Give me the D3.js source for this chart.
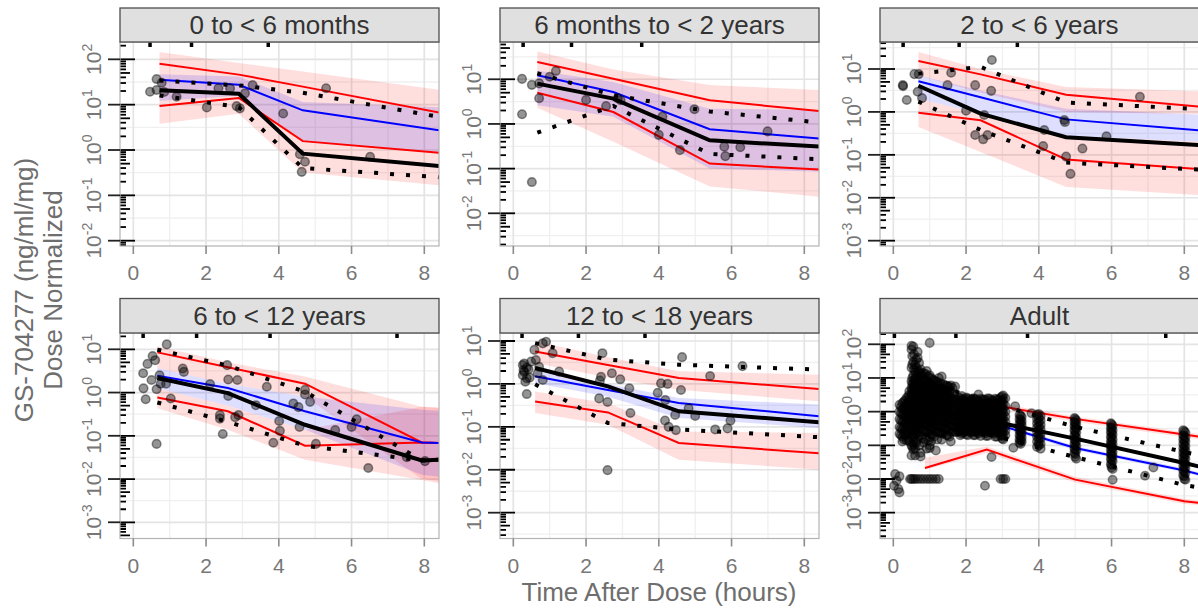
<!DOCTYPE html>
<html><head><meta charset="utf-8">
<script src="https://cdn.jsdelivr.net/npm/d3@7"></script>
<style>body{margin:0;background:#fff;} text{font-family:"Liberation Sans",Arial,sans-serif;}</style>
</head><body><svg id="c" width="1198" height="609"></svg>
<script>
// ---------------- DATA ----------------
const panelTitles = ["0 to < 6 months","6 months to < 2 years","2 to < 6 years","6 to < 12 years","12 to < 18 years","Adult"];
const xTicks = [0,2,4,6,8];
const binTimes = [
 [0.72,2.9,4.66,8.45],
 [0.66,2.75,5.4,8.45],
 [0.69,2.4,4.75,8.45],
 [0.66,2.6,4.72,7.93,8.45],
 [0.6,2.6,4.55,8.45],
 [0.87,2.57,5.0,8.0,8.45]
];
const predMedian = [
 [35.5,27.5,7.5,2.7],
 [12.3,5.2,0.76,0.47],
 [5.2,2.19,0.67,0.37],
 [2.45,1.27,0.37,0.070,0.068],
 [1.5,0.72,0.36,0.175],
 [1.02,0.52,0.083,0.018,0.0135]
];
const predMedianLo = [
 [12,15.8,1.58,0.89],
 [2.63,1.45,0.1,0.085],
 [2.04,0.91,0.28,0.2],
 [1.26,0.5,0.138,0.0126,0.0112],
 [1.05,0.5,0.16,0.094],
 [0.89,0.45,0.072,0.0158,0.0117]
];
const predMedianHi = [
 [46.8,41.7,11.5,8.7],
 [15.8,8.7,2.2,2.04],
 [7.1,3.16,1.19,0.87],
 [3.7,1.58,0.81,0.4,0.38],
 [1.96,1.0,0.47,0.33],
 [1.17,0.6,0.095,0.021,0.0155]
];
const predP95 = [
 [80,46,25,6.6],
 [24.4,10.3,3.4,1.92],
 [15.3,7.5,2.5,1.32],
 [8.5,3.83,1.6,0.070,0.068],
 [5.7,2.76,1.37,0.76],
 [4.0,1.69,0.61,0.209,0.178]
];
const predP95Lo = [
 [20,20,4,1.6],
 [7.9,3.16,0.5,0.355],
 [7.1,2.8,1.0,0.89],
 [3.7,1.58,0.81,0.01,0.0089],
 [3.07,1.41,0.73,0.39],
 [3.3,1.41,0.5,0.174,0.148]
];
const predP95Hi = [
 [145,83,54,21],
 [41.7,16.6,7.4,5.75],
 [25,10,3.8,3.0],
 [11.7,5.0,2.34,0.47,0.44],
 [9.8,4.2,1.96,1.64],
 [4.8,2.04,0.72,0.25,0.214]
];
const predP05 = [
 [9.3,14,1.57,0.86],
 [5.0,1.85,0.13,0.095],
 [0.96,0.64,0.078,0.046],
 [0.77,0.37,0.059,0.070,0.068],
 [0.39,0.217,0.042,0.024],
 [0.0213,0.0746,0.0096,0.0022,0.00195]
];
const predP05Lo = [
 [3.8,6.3,0.32,0.166],
 [2.3,0.4,0.04,0.0234],
 [0.445,0.117,0.0178,0.0115],
 [0.436,0.138,0.0279,0.0095,0.0079],
 [0.21,0.112,0.0171,0.01],
 [0.019,0.059,0.0079,0.0018,0.00166]
];
const predP05Hi = [
 [20,20,4,1.6],
 [7.9,3.16,0.5,0.355],
 [2.04,0.91,0.28,0.2],
 [1.26,0.5,0.138,0.47,0.44],
 [0.67,0.355,0.078,0.072],
 [0.0427,0.093,0.0117,0.0026,0.0023]
];
const obsMedian = [
 [20.7,17.4,0.83,0.44],
 [8.0,3.7,0.43,0.31],
 [4.07,0.91,0.257,0.168],
 [2.17,0.97,0.18,0.027,0.028],
 [2.35,0.88,0.23,0.127],
 [1.12,0.56,0.158,0.030,0.023]
];
const obsP95 = [
 [34,26.7,18.3,5.3],
 [13.6,4.4,1.9,1.07],
 [7.8,11.2,1.66,1.16],
 [9.8,4.2,1.05,0.027,0.028],
 [8.9,3.67,2.8,2.15],
 [7.9,2.0,0.355,0.063,0.05]
];
const obsP05 = [
 [16,8.85,0.40,0.25],
 [0.64,2.53,0.213,0.162],
 [1.74,0.38,0.066,0.045],
 [0.59,0.21,0.059,0.027,0.028],
 [0.98,0.123,0.087,0.057],
 [0.2,0.224,0.0447,0.0066,0.0055]
];
const rugTimes = [[0.46,1.6,3.71],[0.27,1.6,3.53],[0.27,1.81,3.41],[0.27,1.74,3.76,7.25],[0.24,1.79,3.62],[0.03,1.72,3.69,7.49]];
const obsPoints = [
 [[0.46,19.3],[0.64,36.7],[0.78,30.5],[0.64,21],[0.85,19],[1.19,15],[2.02,8.7],[2.34,23],[2.66,23],[2.84,9.3],[2.93,8.3],[3.07,17.8],[3.28,27],[4.12,6.4],[4.58,0.81],[4.72,0.55],[4.63,0.33],[5.30,23],[6.51,0.71]],
 [[0.24,10.2],[0.24,1.65],[0.51,7.5],[0.51,0.05],[0.71,3.76],[0.71,8.1],[1.0,11.4],[1.17,15.3],[2.0,3.45],[2.55,2.5],[2.87,3.76],[2.95,3.4],[4.0,0.57],[4.1,1.46],[4.58,0.26],[4.98,2.13],[5.8,0.31],[5.83,0.19],[6.24,0.30],[6.99,0.68]],
 [[0.26,4.2],[0.27,4.0],[0.37,1.9],[0.58,7.6],[0.67,2.95],[0.70,7.6],[0.79,2.1],[1.59,8.2],[1.49,4.2],[2.0,1.07],[2.25,4.2],[2.25,0.29],[2.47,0.23],[2.5,0.85],[2.59,0.29],[2.69,3.1],[2.71,16.2],[4.12,0.16],[4.15,0.38],[4.70,0.65],[4.72,0.58],[4.75,0.091],[4.87,0.036],[5.2,0.14],[5.86,0.27],[6.78,2.26]],
 [[0.27,2.8],[0.28,1.25],[0.34,0.70],[0.39,4.6],[0.5,1.95],[0.53,7.0],[0.6,5.6],[0.64,0.065],[0.64,1.19],[0.72,2.5],[0.75,1.6],[0.9,1.6],[0.92,13],[1.03,0.73],[1.36,3.6],[1.39,3.0],[2.11,1.57],[2.38,0.30],[2.38,0.25],[2.46,0.11],[2.58,4.3],[2.61,2.0],[2.61,0.83],[2.86,1.95],[2.8,0.27],[2.89,0.30],[3.37,0.51],[3.67,1.36],[3.85,0.069],[4.01,0.22],[4.03,0.13],[4.4,0.56],[4.54,0.46],[4.57,0.16],[4.72,1.15],[4.72,0.9],[4.86,0.61],[5.02,0.065],[5.55,0.135],[6.0,0.16],[6.14,0.24],[6.46,0.018],[7.52,0.032],[8.02,0.026]],
 [[0.26,2.75],[0.28,2.1],[0.26,1.6],[0.37,2.4],[0.37,1.35],[0.33,1.13],[0.37,0.58],[0.49,3.3],[0.3,1.9],[0.3,3.0],[0.45,1.4],[0.42,2.2],[0.58,6.2],[0.62,3.6],[0.71,2.5],[0.67,1.77],[0.81,8.8],[0.9,9.6],[0.81,1.23],[1.08,5.2],[1.26,1.93],[2.45,5.2],[2.41,1.47],[2.38,1.19],[2.36,0.46],[2.59,0.38],[2.59,0.0098],[2.71,1.77],[2.94,1.28],[3.19,0.79],[3.22,0.21],[3.97,0.62],[4.06,1.03],[4.24,1.0],[4.18,0.42],[4.17,0.14],[4.27,0.10],[4.47,0.084],[4.45,0.19],[4.61,0.72],[4.64,4.2],[4.82,0.27],[5.0,0.18],[5.41,1.53],[5.55,0.087],[5.89,0.092],[5.97,0.14],[6.3,2.6]],
 []
];
// Adult observations grouped by sampling time
const adultTimes = [0.02,0.05,0.09,0.14,0.17,0.25,0.33,0.42,0.46,0.5,0.55,0.6,0.67,0.75,0.83,0.92,1.0,1.08,1.17,1.25,1.33,1.42,1.5,1.58,1.7,1.8,1.88,1.96,2.05,2.15,2.25,2.34,2.45,2.52,2.55,2.65,2.7,2.75,2.85,2.95,3.02,3.08,3.3,3.35,3.47,3.53,3.8,3.95,4.05,4.98,5.03,5.98,6.03,6.92,7.15,7.97,8.03,
 0.21,0.29,0.37,0.44,0.52,0.57,0.63,0.71,0.79,0.88,0.96,1.04,1.12,1.21,1.29,1.37,1.46,1.54,1.63,
 1.75,1.84,1.92,2.0,2.1,2.2,2.3,2.4,2.5,2.6,2.7,2.8,2.9,2.99,
 3.5,4.0,5.0,6.0,8.0];
const adultConc = [
 [0.0063],[0.014],[0.009],[0.005],
 [1.6,1.0,0.6,0.35,0.22,0.012,0.004],
 [1.8,1.2,0.8,0.5,0.3,0.18,0.13],
 [2.2,1.5,1.0,0.7,0.45,0.3,0.2],
 [3.0,2.0,1.3,0.9,0.6,0.4,0.25,0.15],
 [0.01],
 [90,70,20,8,5,3.5,2.4,1.6,1.1,0.75,0.5,0.33,0.2,0.1,0.05,0.01],
 [85,30,12,7,5,3.5,2.5,1.8,1.2,0.8,0.55,0.35,0.22,0.12,0.074,0.01],
 [25,15,9,6,4,2.8,2,1.4,1.0,0.7,0.45,0.28,0.08,0.05,0.01],
 [60,40,15,10,6.5,4.5,3.2,2.2,1.5,1.0,0.65,0.4,0.25,0.15,0.01],
 [18,14,11,7,5,3.5,2.5,1.7,1.2,0.8,0.55,0.35,0.2,0.06,0.047,0.01],
 [14,9,6,4,2.8,2.0,1.4,1.0,0.7,0.45,0.3,0.12,0.01],
 [16,8,5.5,3.8,2.6,1.8,1.25,0.85,0.6,0.4,0.25,0.08,0.01],
 [110,12,7,4.5,3.2,2.2,1.5,1.05,0.7,0.48,0.3,0.18,0.1,0.083,0.01],
 [9,6,4,2.8,2,1.4,1.0,0.7,0.48,0.32,0.2,0.01],
 [8,5,3.5,2.5,1.7,1.2,0.85,0.6,0.4,0.25,0.07,0.01],
 [10,6,4,2.8,1.9,1.3,0.9,0.6,0.4,0.25,0.01],
 [11,5,3.5,2.5,1.7,1.2,0.8,0.55,0.35,0.22,0.148],
 [6,4,2.8,2,1.4,1.0,0.7,0.48,0.3],
 [5.6,3.5,2.5,1.7,1.15,0.8,0.55,0.35,0.2],
 [6,4,2.7,1.8,1.25,0.85,0.6,0.4,0.25,0.13],
 [5.6,2.4,1.6,1.1,0.75,0.5,0.35,0.25],
 [2.6,1.9,1.4,1.0,0.75,0.55,0.4,0.28,0.26],
 [2.9,2.2,1.6,1.15,0.85,0.6,0.45,0.32,0.22],
 [2.4,1.8,1.3,0.95,0.7,0.5,0.36,0.25],
 [2.5,1.9,1.4,1.0,0.72,0.52,0.38,0.27,0.2],
 [2.2,1.6,1.2,0.88,0.64,0.46,0.33,0.24],
 [2.4,1.8,1.3,0.95,0.7,0.5,0.36,0.26,0.2],
 [3.2,2.1,1.5,1.1,0.8,0.58,0.42,0.3,0.22],
 [2.3,1.7,1.25,0.9,0.65,0.47,0.34,0.25],
 [0.0063],
 [2.2,1.6,1.2,0.86,0.62,0.45,0.32,0.23,0.19],
 [2.4,1.75,1.3,0.92,0.66,0.48,0.35,0.25],
 [0.045],
 [2.1,1.5,1.1,0.8,0.58,0.42,0.3,0.22],
 [2.3,1.7,1.2,0.88,0.64,0.46,0.33,0.24,0.18],
 [2.6,1.9,1.4,1.0,0.72,0.52,0.37,0.26,0.19,0.01],
 [3.0,2.3,1.7,1.2,0.9,0.65,0.48,0.35,0.26,0.19,0.15,0.01],
 [2.5,1.5,1.0,0.7,0.5,0.36,0.27,0.2,0.01],
 [0.085],[1.45],
 [0.8,0.6,0.45,0.35,0.27,0.2,0.15,0.12],
 [0.7,0.52,0.4,0.3,0.23,0.17,0.13],
 [0.9],
 [0.8,0.6,0.45,0.33,0.25,0.18,0.13,0.09],
 [0.75,0.55,0.4,0.3,0.22,0.16,0.11,0.08],
 [0.65,0.5,0.38,0.28,0.2,0.15,0.11,0.08,0.06],
 [0.55,0.42,0.32,0.24,0.17,0.13,0.095,0.07,0.04],
 [0.45,0.33,0.25,0.18,0.13,0.1,0.075,0.055,0.04,0.028],
 [0.38,0.28,0.21,0.15,0.11,0.085,0.063,0.047,0.034,0.02,0.0095],
 [0.0125],[0.022],
 [0.28,0.2,0.15,0.11,0.08,0.06,0.045,0.033,0.025,0.018,0.013],
 [0.24,0.17,0.13,0.095,0.07,0.052,0.039,0.028,0.021,0.015,0.0095],
 [1.4,0.9,0.55,0.32,0.2],
 [2.0,1.3,0.85,0.55,0.35,0.22,0.15],
 [2.6,1.7,1.15,0.8,0.52,0.34,0.22,0.14],
 [4,2.6,1.7,1.15,0.78,0.52,0.34,0.22,0.13],
 [45,25,10,6.5,4.4,3.0,2.1,1.4,0.95,0.65,0.42,0.27,0.17,0.09],
 [50,18,9,6,4.2,3.0,2.1,1.5,1.0,0.7,0.47,0.3,0.18,0.1],
 [35,20,11,7.5,5,3.4,2.4,1.7,1.2,0.82,0.55,0.36,0.22,0.12],
 [28,16,10,6.5,4.4,3.0,2.1,1.45,1.0,0.68,0.45,0.3,0.18,0.1],
 [12,8,5.5,3.8,2.6,1.8,1.25,0.87,0.6,0.4,0.26,0.16],
 [13,8.5,5.8,4,2.7,1.9,1.3,0.9,0.62,0.42,0.27,0.15],
 [11,7.5,5,3.5,2.4,1.65,1.15,0.8,0.55,0.37,0.24,0.14],
 [10,6.5,4.5,3.1,2.15,1.5,1.05,0.72,0.5,0.34,0.22,0.13],
 [8.5,5.8,4,2.7,1.9,1.3,0.9,0.62,0.43,0.29,0.18],
 [7.5,5,3.5,2.4,1.7,1.15,0.8,0.55,0.38,0.25,0.15],
 [7,4.8,3.3,2.3,1.6,1.1,0.76,0.52,0.36,0.24],
 [6.5,4.5,3.1,2.15,1.5,1.03,0.72,0.5,0.34,0.22],
 [6,4.2,2.9,2.0,1.4,0.97,0.67,0.46,0.31,0.2],
 [5.5,3.8,2.6,1.8,1.25,0.87,0.6,0.41,0.28,0.18],
 [5,3.4,2.3,1.6,1.1,0.77,0.53,0.36,0.25],
 [2.3,1.7,1.25,0.9,0.66,0.48,0.35,0.25],
 [2.5,1.8,1.3,0.95,0.7,0.5,0.37,0.27,0.2],
 [2.2,1.6,1.2,0.85,0.63,0.46,0.33,0.24],
 [2.6,1.9,1.35,1.0,0.72,0.53,0.38,0.28,0.21],
 [2.3,1.7,1.25,0.9,0.66,0.48,0.35,0.25],
 [2.5,1.8,1.3,0.95,0.7,0.5,0.37,0.27,0.2],
 [2.2,1.6,1.2,0.86,0.62,0.45,0.33,0.24],
 [2.4,1.75,1.3,0.93,0.68,0.49,0.36,0.26,0.19],
 [2.3,1.7,1.22,0.88,0.64,0.46,0.34,0.25],
 [2.5,1.8,1.3,0.95,0.69,0.5,0.36,0.26,0.19],
 [2.2,1.6,1.18,0.85,0.62,0.45,0.33,0.24],
 [2.4,1.75,1.28,0.92,0.67,0.48,0.35,0.25,0.18],
 [2.3,1.68,1.22,0.88,0.64,0.46,0.34,0.24],
 [2.8,2.0,1.45,1.05,0.76,0.55,0.4,0.29,0.21,0.16],
 [0.75,0.56,0.42,0.32,0.25,0.19,0.14,0.11],
 [0.85,0.65,0.5,0.37,0.28,0.21,0.16,0.12,0.1],
 [0.6,0.46,0.35,0.26,0.19,0.14,0.1,0.075,0.055,0.045],
 [0.42,0.31,0.23,0.17,0.125,0.09,0.068,0.05,0.037,0.026,0.022],
 [0.26,0.19,0.14,0.1,0.075,0.056,0.042,0.031,0.023,0.017,0.012,0.01]
];

// ---------------- LAYOUT ----------------
const colX = [120,500,880], PW = 319;
const rows = [{strip:8, top:42, bottom:246},{strip:298.5, top:333, bottom:538.5}];
const yExp = [[-2.117,2.382],[-2.732,1.834],[-3.124,1.629],[-3.375,1.377],[-3.601,1.186],[-3.766,2.335]];
const xDom = [-0.366, 8.404];

const svg = d3.select('#c');
svg.append('rect').attr('width',1198).attr('height',609).attr('fill','#fff');
const defs = svg.append('defs');

// flatten adult data
obsPoints[5] = adultTimes.flatMap((t,i)=>adultConc[i].map(c=>[t,c]));

panelTitles.forEach((title,i)=>{
  const col = i%3, row = rows[Math.floor(i/3)];
  const L = colX[col], R = L+PW, T = row.top, B = row.bottom;
  const xs = d3.scaleLinear().domain(xDom).range([L,R]);
  const [e0,e1] = yExp[i];
  const ys = d3.scaleLog().domain([Math.pow(10,e0),Math.pow(10,e1)]).range([B,T]);
  defs.append('clipPath').attr('id','cl'+i).append('rect').attr('x',L).attr('y',T).attr('width',PW).attr('height',B-T);
  const g = svg.append('g');
  const p = g.append('g').attr('clip-path',`url(#cl${i})`);
  p.append('rect').attr('x',L).attr('y',T).attr('width',PW).attr('height',B-T).attr('fill','#fff');
  // grid
  const kLo = Math.floor(e0), kHi = Math.ceil(e1);
  for(let k=kLo;k<=kHi;k++){
    const vm = Math.pow(10,k+0.5);
    p.append('line').attr('x1',L).attr('x2',R).attr('y1',ys(vm)).attr('y2',ys(vm)).attr('stroke','#f0f0f0').attr('stroke-width',1.3);
  }
  [1,3,5,7].forEach(v=>p.append('line').attr('x1',xs(v)).attr('x2',xs(v)).attr('y1',T).attr('y2',B).attr('stroke','#f0f0f0').attr('stroke-width',1.3));
  for(let k=kLo;k<=kHi;k++){
    const v = Math.pow(10,k);
    p.append('line').attr('x1',L).attr('x2',R).attr('y1',ys(v)).attr('y2',ys(v)).attr('stroke','#e4e4e4').attr('stroke-width',1.7);
  }
  xTicks.forEach(v=>p.append('line').attr('x1',xs(v)).attr('x2',xs(v)).attr('y1',T).attr('y2',B).attr('stroke','#e4e4e4').attr('stroke-width',1.7));

  const bx = binTimes[i];
  const area = (lo,hi)=>d3.area().x((d,j)=>xs(bx[j])).y0((d,j)=>ys(lo[j])).y1((d,j)=>ys(hi[j]))(bx);
  const line = (vals)=>d3.line().x((d,j)=>xs(bx[j])).y((d,j)=>ys(vals[j]))(bx);
  // bands
  p.append('path').attr('d',area(predP95Lo[i],predP95Hi[i])).attr('fill','#ff0000').attr('fill-opacity',0.13);
  p.append('path').attr('d',area(predP05Lo[i],predP05Hi[i])).attr('fill','#ff0000').attr('fill-opacity',0.13);
  p.append('path').attr('d',area(predMedianLo[i],predMedianHi[i])).attr('fill','#0000ff').attr('fill-opacity',0.13);
  // predicted lines
  p.append('path').attr('d',line(predP95[i])).attr('fill','none').attr('stroke','#ff0000').attr('stroke-width',2);
  p.append('path').attr('d',line(predP05[i])).attr('fill','none').attr('stroke','#ff0000').attr('stroke-width',2);
  p.append('path').attr('d',line(predMedian[i])).attr('fill','none').attr('stroke','#0000ff').attr('stroke-width',2);
  // observed lines
  p.append('path').attr('d',line(obsMedian[i])).attr('fill','none').attr('stroke','#000').attr('stroke-width',4);
  [obsP95[i],obsP05[i]].forEach(v=>p.append('path').attr('d',line(v)).attr('fill','none').attr('stroke','#000').attr('stroke-width',4).attr('stroke-dasharray','4 12'));
  // points
  p.selectAll('circle.o').data(obsPoints[i]).enter().append('circle')
    .attr('cx',d=>xs(d[0])).attr('cy',d=>ys(d[1])).attr('r',4.3)
    .attr('fill','#000').attr('fill-opacity',0.42).attr('stroke','#000').attr('stroke-opacity',0.42).attr('stroke-width',1.5);
  // log ticks inside left
  for(let k=kLo;k<=kHi;k++){
    for(let m=1;m<=9;m++){
      const v = m*Math.pow(10,k);
      if(Math.log10(v)<e0||Math.log10(v)>e1) continue;
      const len = m===1?15:(m===5?10:6);
      p.append('line').attr('x1',L).attr('x2',L+len).attr('y1',ys(v)).attr('y2',ys(v)).attr('stroke','#000').attr('stroke-width',1.8);
    }
  }
  // rug at top
  rugTimes[i].forEach(t=>p.append('line').attr('x1',xs(t)).attr('x2',xs(t)).attr('y1',T).attr('y2',T+5).attr('stroke','#000').attr('stroke-width',3.5));
  // panel border
  g.append('rect').attr('x',L).attr('y',T).attr('width',PW).attr('height',B-T).attr('fill','none').attr('stroke','#b3b3b3').attr('stroke-width',1.2);
  // strip
  g.append('rect').attr('x',L).attr('y',row.strip).attr('width',PW).attr('height',T-row.strip).attr('fill','#e0e0e0').attr('stroke','#4d4d4d').attr('stroke-width',1.3);
  g.append('text').attr('x',(L+R)/2).attr('y',(row.strip+T)/2+8.8).attr('text-anchor','middle').attr('font-size',26).attr('fill','#333').text(title);
  // x axis
  xTicks.forEach(v=>{
    g.append('line').attr('x1',xs(v)).attr('x2',xs(v)).attr('y1',B).attr('y2',B+8).attr('stroke','#8c8c8c').attr('stroke-width',1.6);
    g.append('text').attr('x',xs(v)).attr('y',B+34).attr('text-anchor','middle').attr('font-size',21).attr('fill','#777').text(v);
  });
  // y axis
  for(let k=Math.ceil(e0);k<=Math.floor(e1);k++){
    const v = Math.pow(10,k);
    g.append('line').attr('x1',L-12).attr('x2',L).attr('y1',ys(v)).attr('y2',ys(v)).attr('stroke','#222').attr('stroke-width',1.8);
    const t = g.append('text').attr('transform',`translate(${L-19},${ys(v)}) rotate(-90)`).attr('text-anchor','middle').attr('font-size',21).attr('fill','#777');
    t.append('tspan').text('10');
    t.append('tspan').attr('dy',-9).attr('font-size',14).text(String(k));
  }
});

// titles
svg.append('text').attr('x',659).attr('y',601).attr('text-anchor','middle').attr('font-size',26).attr('fill','#6e6e6e').text('Time After Dose (hours)');
svg.append('text').attr('transform','translate(33,290) rotate(-90)').attr('text-anchor','middle').attr('font-size',26).attr('fill','#6e6e6e').text('GS-704277 (ng/ml/mg)');
svg.append('text').attr('transform','translate(62,290) rotate(-90)').attr('text-anchor','middle').attr('font-size',26).attr('fill','#6e6e6e').text('Dose Normalized');
</script></body></html>
